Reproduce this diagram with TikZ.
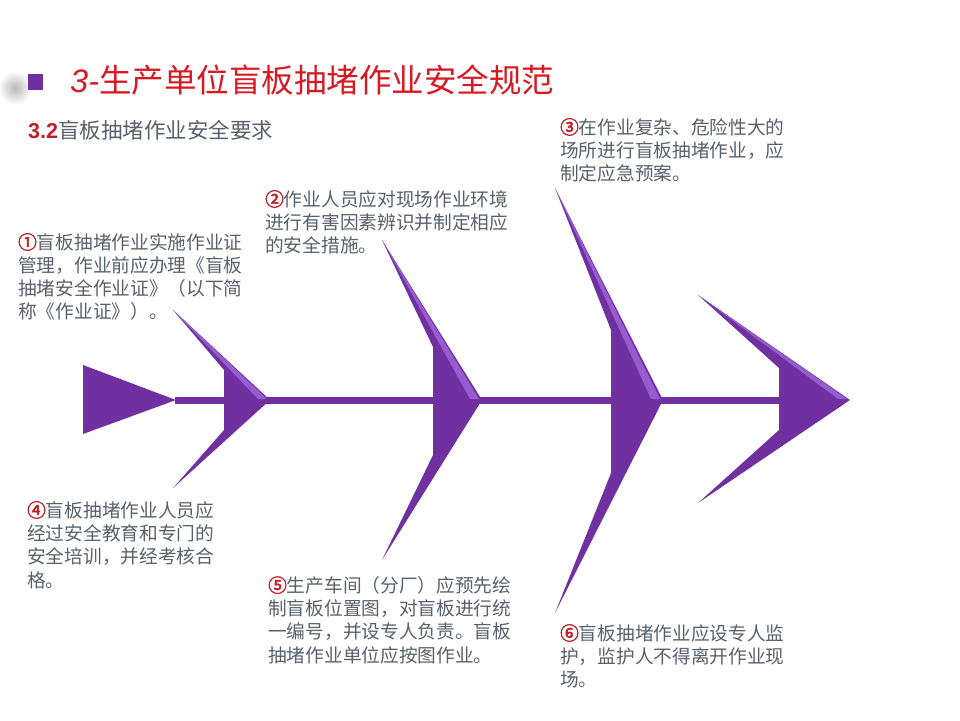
\documentclass[tikz,border=0pt]{standalone}
\usepackage{fontspec}
\setmainfont{Noto Sans CJK SC}
\newfontfamily\latinsans{Liberation Sans}
\newfontfamily\numfont[FakeBold=2.5]{Noto Sans CJK SC}
\usepackage{tikz}

\definecolor{fishpurple}{RGB}{112,48,160}
\definecolor{fishlight}{RGB}{150,92,208}
\definecolor{titlered}{RGB}{215,25,35}
\definecolor{numred}{RGB}{192,30,40}
\definecolor{bodygray}{RGB}{88,96,106}

\begin{document}
\begin{tikzpicture}[x=1pt,y=-1pt,
 note/.style={anchor=north west,inner sep=0pt,align=left,text=bodygray,
  font=\fontsize{18.7}{23.3}\selectfont},
 num/.style={text=numred}]
\useasboundingbox (0,0) rectangle (960,720);

% heading
\shade[inner color=gray!55,outer color=white] (15,88) circle (17);
\fill[fishpurple] (28,74) rectangle (43,90);
\node (title) [anchor=west,inner sep=0pt,text=titlered,font=\fontsize{32.5}{38}\selectfont]
 at (70,80) {{\latinsans\itshape 3-}生产单位盲板抽堵作业安全规范};
\node (sub) [anchor=west,inner sep=0pt,text=bodygray,font=\fontsize{21.5}{26}\selectfont]
 at (28,130) {\textcolor{numred}{\latinsans\bfseries 3.2}盲板抽堵作业安全要求};

% spine and tail
\fill[fishpurple] (175,396.5) rectangle (835,403.5);
\fill[fishpurple] (83,365)--(176,400)--(83,434)--cycle;

% fins: tip x/y, body x, body top, front x, body bottom, lower tip y
\foreach \tx/\ty/\bx/\bt/\fx/\bb/\by in
 {173/310/224/370/270/430/488, 382/240/433/347/482/455/560,
  555/188/611/330/663/473/613, 698/295/779/368/850/430/503} {
 \coordinate (top) at (\tx,\ty);
 \coordinate (front) at (\fx,400);
 \fill[fishpurple] (top)--(front)--(\tx,\by)--(\bx,\bb)--(\bx,\bt)--cycle;
 \fill[fishlight] (top)--(\fx-3,399)--(\fx-12,399)--cycle;
}

% notes
\node (t1) [note] at (18,233) {\textcolor{numred}{\numfont ①}盲板抽堵作业实施作业证\\
 管理，作业前应办理《盲板\\抽堵安全作业证》（以下简\\称《作业证》）。};
\node (t2) [note] at (265,190) {\textcolor{numred}{\numfont ②}作业人员应对现场作业环境\\
 进行有害因素辨识并制定相应\\的安全措施。};
\node (t3) [note] at (560,118) {\textcolor{numred}{\numfont ③}在作业复杂、危险性大的\\
 场所进行盲板抽堵作业，应\\制定应急预案。};
\node (t4) [note] at (27,501) {\textcolor{numred}{\numfont ④}盲板抽堵作业人员应\\
 经过安全教育和专门的\\安全培训，并经考核合\\格。};
\node (t5) [note] at (268,576) {\textcolor{numred}{\numfont ⑤}生产车间（分厂）应预先绘\\
 制盲板位置图，对盲板进行统\\一编号，并设专人负责。盲板\\抽堵作业单位应按图作业。};
\node (t6) [note] at (560,624) {\textcolor{numred}{\numfont ⑥}盲板抽堵作业应设专人监\\
 护，监护人不得离开作业现\\场。};
\end{tikzpicture}
\end{document}
